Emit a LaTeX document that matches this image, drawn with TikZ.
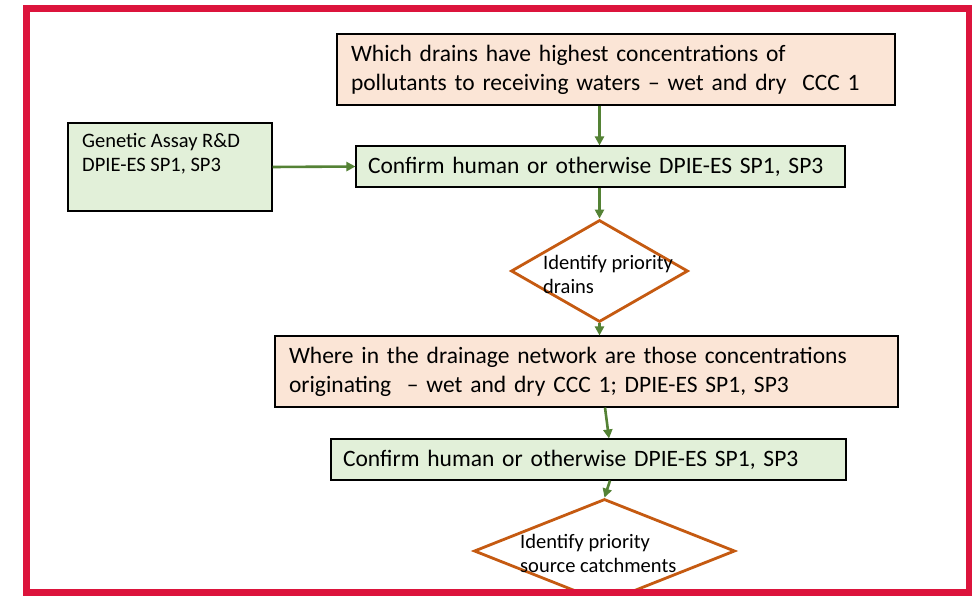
\documentclass[tikz,border=0pt]{standalone}
\usepackage{fontspec}
\setmainfont{Carlito}
\usetikzlibrary{arrows.meta,shapes.geometric,calc}
\definecolor{peach}{HTML}{FBE5D6}
\definecolor{lgreen}{HTML}{E2F0D9}
\definecolor{agreen}{HTML}{548235}
\definecolor{dorange}{HTML}{C55A11}
\definecolor{frame}{HTML}{DC143C}
\tikzset{
  box/.style={draw=black, line width=1.1pt, inner sep=0pt, align=left, anchor=center},
  pbox/.style={box, fill=peach},
  gbox/.style={box, fill=lgreen},
  dia/.style={diamond, draw=dorange, line width=2.8pt, inner sep=0pt, fill=white},
  arr/.style={draw=agreen, line width=2.6pt, -{Triangle[length=9pt,width=9pt]}},
  big/.style={font=\fontsize{23.5}{29}\selectfont},
  small/.style={font=\fontsize{20.5}{24}\selectfont, align=left, inner sep=0pt}
}
\begin{document}
\begin{tikzpicture}[x=1pt,y=-1pt]
\useasboundingbox (0,0) rectangle (972,596);
\fill[white] (0,0) rectangle (972,596);
% boxes
\node[pbox, big, minimum width=558pt, minimum height=71pt, text width=530pt] (q1) at (616,69.5)
  {Which drains have highest concentrations of\\pollutants to receiving waters -- wet and dry\ \ CCC 1};
\node[gbox, minimum width=204pt, minimum height=88pt] (g) at (170,167) {};
\node[small, anchor=west] (gt) at (82,153.5) {Genetic Assay R\&D\\DPIE-ES SP1, SP3};
\node[gbox, big, minimum width=489pt, minimum height=41pt, text width=465pt] (c1) at (600.5,166.5)
  {Confirm human or otherwise DPIE-ES SP1, SP3};
\node[dia, minimum width=177pt, minimum height=102pt] (d1) at (599.5,271) {};
\node[small, anchor=west] (d1t) at (543,274) {Identify priority\\drains};
\node[pbox, big, minimum width=623pt, minimum height=71pt, text width=595pt] (q2) at (586.5,371.5)
  {Where in the drainage network are those concentrations\\originating\ \ -- wet and dry CCC 1; DPIE-ES SP1, SP3};
\node[gbox, big, minimum width=515pt, minimum height=41pt, text width=491pt] (c2) at (588.5,459.5)
  {Confirm human or otherwise DPIE-ES SP1, SP3};
\node[dia, minimum width=261pt, minimum height=104pt] (d2) at (604.5,551) {};
\node[small, anchor=west] (d2t) at (520,553.5) {Identify priority\\source catchments};
% arrows
\draw[arr] (d1.north |- q1.south) -- (d1.north |- c1.north);
\draw[arr] (g.east) -- (c1.west);
\draw[arr] (d1.north |- c1.south) -- (d1.north);
\draw[arr] (d1.south) -- (d1.south |- q2.north);
\draw[arr] ($(q2.south)+(18.5,0)$) -- ($(c2.north)+(20.5,0)$);
\draw[arr] ($(c2.south)+(21.5,0)$) -- (d2.north);
% frame
\draw[frame, line width=7pt] (26,9) rectangle (969,592);
\end{tikzpicture}
\end{document}
